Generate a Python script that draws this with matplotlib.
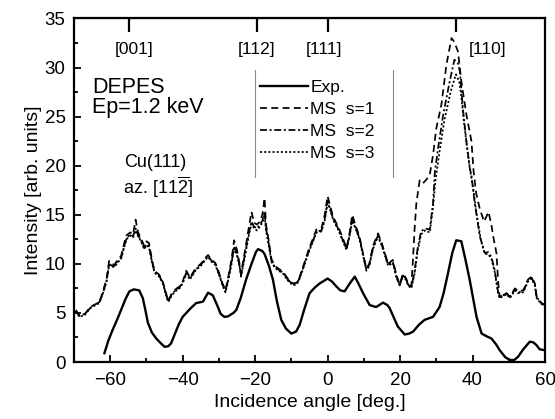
import matplotlib
matplotlib.use("Agg")
import matplotlib.pyplot as plt
from matplotlib.ticker import MultipleLocator

plt.rcParams["font.family"] = ["Liberation Sans", "DejaVu Sans"]
plt.rcParams["mathtext.fontset"] = "custom"
plt.rcParams["mathtext.rm"] = "Liberation Sans"

# experimental curve
exp_angle = [-61.6, -60.5, -59.3, -58, -57, -55.8, -54.7, -53.5, -52, -51, -50.3, -49.6,
             -48.5, -47.3, -46, -45, -44, -43.2, -42, -41, -40, -38, -36.3, -34.4, -33,
             -31.7, -30.5, -29.5, -28.5, -27.5, -26, -25.2, -24, -22.5, -21, -19.8, -19.2,
             -18, -17.4, -16.2, -15.1, -14, -12.8, -11.5, -10, -8.7, -7.7, -6.5, -5, -3.5,
             -2.2, 0, 1.2, 2.4, 3.5, 4.7, 6.1, 7.5, 8.5, 9.8, 11.6, 13.4, 15.3, 16.5, 17.1,
             18.3, 19.4, 21.3, 22.5, 23.6, 25.2, 26.8, 29.1, 30.9, 32, 33.2, 34.4, 35.5,
             36.9, 38, 39.2, 40.2, 41.1, 42.5, 44, 45.2, 46.5, 47.5, 49, 50.3, 51.5, 52.6,
             54, 55.8, 56.8, 57.7, 58.5, 60]
exp_int = [0.9, 2.2, 3.3, 4.4, 5.3, 6.4, 7.2, 7.4, 7.3, 6.5, 5.3, 4.0,
           3.0, 2.4, 1.9, 1.55, 1.6, 1.9, 3.0, 3.9, 4.6, 5.4, 6.0, 6.15, 7.06,
           6.8, 5.8, 4.9, 4.6, 4.65, 5.0, 5.3, 6.5, 8.4, 10.0, 11.2, 11.5,
           11.3, 11.0, 9.8, 8.4, 6.2, 4.3, 3.4, 2.9, 3.1, 3.8, 5.3, 7.0, 7.6,
           8.0, 8.5, 8.2, 7.7, 7.3, 7.2, 8.0, 8.7, 8.0, 7.0, 5.8, 5.6, 6.05, 5.8, 5.5,
           4.5, 3.6, 2.8, 2.9, 3.1, 3.8, 4.3, 4.6, 5.6, 7.0, 9.0, 11.1, 12.4,
           12.3, 10.5, 8.4, 6.4, 4.6, 2.9, 2.6, 2.4, 1.8, 1.2, 0.5, 0.2, 0.2, 0.55,
           1.3, 2.07, 2.0, 1.7, 1.3, 1.2]

# multiple scattering calculations
ms_angle = [-69.5, -68.5, -67, -65.5, -64.5, -63, -62, -61, -60.3, -59.5, -58.8, -58, -57,
            -56, -55.5, -54.5, -53.7, -53, -52.3, -51.5, -50.6, -50, -49.3, -48.5, -47.8,
            -46.5, -45.5, -44.5, -44, -43, -42, -40.9, -40, -39, -38, -37.5, -36.5, -35,
            -33.5, -33, -32, -31, -30, -29, -28.2, -27.5, -26.5, -25.8, -25, -24.3, -23.9,
            -23.2, -22.5, -21.7, -21, -20.3, -19.5, -18.7, -18, -17.4, -17, -16.3, -15.5,
            -14.6, -13.5, -12.3, -11, -9.6, -8.5, -7.7, -6.5, -5, -4, -3.1, -1.7, -0.8, 0,
            0.8, 1.5, 2.9, 4, 5.2, 6, 6.8, 7.8, 8.8, 9.8, 10.7, 11.5, 12.5, 13.9, 14.8,
            15.7, 16.7, 18, 19, 19.9, 20.8, 21.7, 22.2, 23.1]
ms1_low = [5.3, 4.7, 4.9, 5.6, 5.8, 6.1, 7.2, 8.5, 10.3, 10.0, 9.9, 10.4, 10.8,
           12.3, 12.9, 13.2, 13.0, 14.5, 13.2, 12.6, 11.8, 12.3, 12.1, 10.5, 9.3,
           8.9, 8.2, 6.9, 6.2, 7.0, 7.4, 7.7, 8.2, 9.3, 8.6, 8.9, 9.5, 10.0,
           10.7, 10.9, 10.4, 10.1, 9.1, 8.0, 7.3, 8.5, 10.5, 12.4, 11.4, 10.0, 9.0,
           10.5, 12.0, 13.8, 15.3, 14.2, 14.0, 14.3, 15.0, 16.7, 14.0, 12.5, 10.5,
           9.8, 9.5, 9.2, 8.5, 8.0, 8.1, 8.7, 10.0, 11.7, 12.6, 13.5, 13.6, 15.0, 16.9,
           15.8, 14.8, 13.8, 12.8, 11.6, 13.0, 15.0, 13.8, 12.8, 11.0, 9.5, 10.0, 11.8, 13.1, 12.3,
           11.2, 10.0, 10.4, 8.8, 7.9, 9.0, 8.5, 8.0, 7.7]
ms2_low = [5.2, 4.7, 4.9, 5.5, 5.8, 6.1, 7.0, 8.3, 10.0, 9.8, 9.8, 10.2, 10.6,
           12.0, 12.6, 13.0, 12.8, 13.6, 12.9, 12.4, 11.6, 12.0, 11.8, 10.3, 9.2,
           8.8, 8.1, 6.8, 6.2, 6.9, 7.3, 7.6, 8.1, 9.1, 8.5, 8.8, 9.4, 9.9,
           10.6, 10.8, 10.3, 10.0, 9.0, 7.9, 7.2, 8.3, 10.2, 11.8, 11.0, 9.8, 8.8,
           10.2, 11.6, 13.2, 14.3, 13.8, 13.6, 14.0, 14.4, 15.3, 13.6, 12.2, 10.3,
           9.7, 9.4, 9.1, 8.4, 7.9, 8.0, 8.6, 9.9, 11.5, 12.4, 13.3, 13.4, 14.6, 16.4,
           15.5, 14.6, 13.6, 12.6, 11.5, 12.8, 14.6, 13.6, 12.6, 10.9, 9.4, 9.9, 11.6, 12.9, 12.1,
           11.1, 9.9, 10.2, 8.7, 7.8, 8.9, 8.4, 7.9, 7.6]
ms3_low = [5.2, 4.6, 4.8, 5.5, 5.7, 6.0, 7.0, 8.2, 9.9, 9.7, 9.7, 10.1, 10.5,
           11.9, 12.5, 12.9, 12.7, 13.4, 12.8, 12.3, 11.5, 11.9, 11.7, 10.2, 9.1,
           8.7, 8.0, 6.7, 6.1, 6.8, 7.2, 7.5, 8.0, 9.0, 8.4, 8.7, 9.3, 9.8,
           10.5, 10.7, 10.2, 9.9, 8.9, 7.8, 7.1, 8.2, 10.0, 11.6, 10.8, 9.7, 8.7,
           10.0, 11.4, 13.0, 14.1, 13.6, 13.4, 13.8, 14.2, 15.0, 13.4, 12.0, 10.2,
           9.6, 9.3, 9.0, 8.3, 7.8, 7.9, 8.5, 9.8, 11.4, 12.3, 13.2, 13.3, 14.4, 16.2,
           15.4, 14.5, 13.5, 12.5, 11.4, 12.7, 14.4, 13.5, 12.5, 10.8, 9.3, 9.8, 11.5, 12.8, 12.0,
           11.0, 9.8, 10.1, 8.6, 7.8, 8.8, 8.3, 7.8, 7.5]

# [110] peak region, each calculation separately
ms1_hi_angle = [23.6, 24, 24.5, 25.4, 26.3, 27.3, 28.2, 29.1, 30, 31.4, 32.8, 34.2, 35, 36,
                36.9, 38.3, 39.7, 40.3, 41, 42, 43.2, 44.4, 45.2, 45.7, 46.6, 47.1, 47.5,
                48.4, 49.4, 50.3, 51.7, 52.6, 54, 55.3, 56.3, 57.2, 57.7, 59, 60]
ms1_hi = [10.7, 13.5, 16.2, 18.5, 18.2, 18.6, 19.1, 21.1, 23.8, 26.2, 30.3, 33.0, 32.6, 31.6,
          28.6, 25.2, 22.5, 19.4, 17.2, 15.6, 14.3, 15.3, 14.0, 12.8, 11.1, 8.0, 6.65,
          6.8, 7.0, 6.65, 7.5, 7.2, 7.3, 8.4, 8.7, 8.0, 6.65, 6.0, 5.8]
ms2_hi_angle = [24, 24.8, 25.8, 26.8, 28.2, 29.1, 29.6, 30.5, 31.9, 33.7, 35, 36, 36.5,
                37.4, 38.3, 39.2, 39.7, 40.6, 42, 43.4, 44.3, 45.2, 46.1, 47.1, 47.5,
                48.4, 49.4, 50.3, 51.7, 52.6, 54, 55.3, 56.3, 57.2, 57.7, 59, 60]
ms2_hi = [9.2, 11.5, 13.3, 13.6, 13.5, 16.2, 19.4, 21.8, 25.2, 28.6, 30.8, 30.4, 29.6,
          25.6, 22.5, 19.8, 19.0, 16.2, 12.8, 11.1, 11.2, 10.7, 9.4, 7.0, 6.6,
          6.8, 7.0, 6.6, 7.4, 7.1, 7.2, 8.3, 8.6, 7.9, 6.6, 6.0, 5.8]
ms3_hi_angle = [24, 24.8, 25.8, 26.8, 28.2, 29.1, 29.8, 30.8, 32.2, 34, 35.4, 36.3, 36.8,
                37.6, 38.5, 39.4, 40.2, 41, 42.3, 43.4, 44.3, 45.2, 46.1, 47.1, 47.5,
                48.4, 49.4, 50.3, 51.7, 52.6, 54, 55.3, 56.3, 57.2, 57.7, 59, 60]
ms3_hi = [9.0, 11.2, 13.0, 13.4, 13.2, 15.8, 18.6, 21.2, 24.6, 27.6, 29.3, 28.6, 27.4,
          24.5, 21.8, 19.4, 17.6, 15.4, 12.4, 11.0, 11.0, 10.5, 9.2, 6.9, 6.5,
          6.7, 6.9, 6.5, 7.3, 7.0, 7.1, 8.2, 8.5, 7.8, 6.5, 5.9, 5.7]

# crystallographic directions on the top axis
dir_angle = [-54.7, -19.5, 0.0, 35.3]
dir_label = ["[001]", "[112]", "[111]", "[110]"]
dir_label_x = [-53.5, -19.6, -1.1, 44.2]

fig = plt.figure(figsize=(5.55, 4.19), dpi=100)
ax = fig.add_axes([0.1333, 0.136, 0.8487, 0.820])

ax.plot(exp_angle, exp_int, color="black", lw=1.7, label="Exp.")
ax.plot(ms_angle + ms1_hi_angle, ms1_low + ms1_hi, color="black", lw=1.25,
        ls=(0, (4, 2.5)), label="MS  s=1")
ax.plot(ms_angle + ms2_hi_angle, ms2_low + ms2_hi, color="black", lw=1.25,
        ls=(0, (4, 1.5, 1.2, 1.5)), label="MS  s=2")
ax.plot(ms_angle + ms3_hi_angle, ms3_low + ms3_hi, color="black", lw=1.25,
        ls=(0, (1.2, 1.2)), label="MS  s=3")

ax.set_xlim(-70, 60)
ax.set_ylim(0, 35)
ax.xaxis.set_major_locator(MultipleLocator(20))
ax.xaxis.set_minor_locator(MultipleLocator(10))
ax.yaxis.set_major_locator(MultipleLocator(5))
ax.yaxis.set_minor_locator(MultipleLocator(2.5))
ax.tick_params(which="both", direction="in", top=False, right=False, labelsize=13.5, width=1.3)
ax.tick_params(axis="x", which="major", length=5, pad=7)
ax.tick_params(axis="y", which="major", length=5, pad=6)
ax.tick_params(which="minor", length=3)
for side in ax.spines.values():
    side.set_linewidth(1.6)

top = ax.secondary_xaxis("top")
top.set_xticks(dir_angle)
top.tick_params(direction="in", length=10, width=1.6, labeltop=False)

for xl, lab in zip(dir_label_x, dir_label):
    ax.text(xl, 31.8, lab, ha="center", va="center", fontsize=12.5)

ax.text(-64.9, 28.0, "DEPES", ha="left", va="center", fontsize=15.5)
ax.text(-64.9, 25.9, "Ep=1.2 keV", ha="left", va="center", fontsize=15.5)
ax.text(-56.1, 20.3, "Cu(111)", ha="left", va="center", fontsize=13)
ax.text(-56.4, 17.8, r"az. [11$\overline{2}$]", ha="left", va="center", fontsize=13)

ax.set_xlabel("Incidence angle [deg.]", fontsize=14, labelpad=4)
ax.set_ylabel("Intensity [arb. units]", fontsize=14, labelpad=2)

leg = ax.legend(loc="upper left", bbox_to_anchor=(0.395, 0.82), frameon=False,
                fontsize=12.5, handlelength=2.75, handletextpad=0.15,
                labelspacing=0.38, borderpad=0, borderaxespad=0)
for x0 in (0.384, 0.677):
    ax.plot([x0, x0], [0.539, 0.850], transform=ax.transAxes, color="#888888", lw=0.8)

fig.savefig("out.png", dpi=100)
